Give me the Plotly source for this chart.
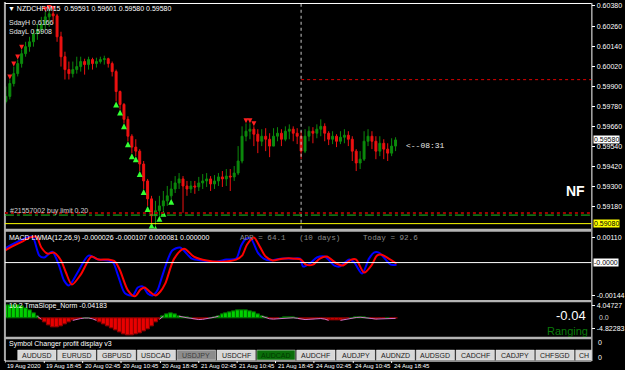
import plotly.graph_objects as go

W, H = 625, 370
SANS = "Liberation Sans Narrow, Liberation Sans, Arial, sans-serif"
MONO = "Liberation Mono, Courier New, monospace"

# ---------------- data ----------------
symbol = "NZDCHF,M15"
header_quote = "0.59591 0.59601 0.59580 0.59580"

first_open_pts = 59810
close_pts = [59840, 59917, 59976, 60036, 60095, 60137, 60166, 60214, 60238, 60273,
             60315, 60333, 60321, 60196, 60077, 60000, 59976, 60000, 60018, 60048,
             60030, 60060, 60036, 60048, 60060, 60065, 60036, 59988, 59869, 59792,
             59703, 59602, 59537, 59513, 59436, 59335, 59228, 59127, 59157, 59186,
             59216, 59246, 59287, 59323, 59347, 59305, 59287, 59305, 59299, 59323,
             59335, 59347, 59317, 59335, 59359, 59347, 59364, 59359, 59382, 59454,
             59602, 59632, 59644, 59614, 59572, 59602, 59584, 59543, 59602, 59620,
             59584, 59632, 59644, 59620, 59602, 59513, 59602, 59632, 59620, 59644,
             59661, 59620, 59584, 59602, 59572, 59596, 59608, 59584, 59513, 59442,
             59465, 59572, 59602, 59572, 59513, 59560, 59525, 59501, 59543, 59580]
high_pts = [59899, 59941, 60018, 60060, 60119, 60166, 60196, 60238, 60273, 60315,
            60345, 60356, 60350, 60333, 60226, 60107, 60048, 60048, 60077, 60077,
            60065, 60077, 60071, 60071, 60077, 60083, 60071, 60048, 60000, 59875,
            59800, 59721, 59614, 59584, 59525, 59454, 59347, 59246, 59216, 59246,
            59275, 59305, 59335, 59364, 59382, 59364, 59335, 59335, 59335, 59359,
            59376, 59382, 59364, 59370, 59382, 59394, 59406, 59406, 59424, 59543,
            59661, 59679, 59679, 59661, 59644, 59644, 59650, 59620, 59650, 59656,
            59644, 59661, 59673, 59661, 59650, 59632, 59644, 59661, 59656, 59673,
            59703, 59679, 59632, 59632, 59614, 59632, 59644, 59632, 59602, 59525,
            59513, 59632, 59644, 59632, 59602, 59602, 59584, 59560, 59590, 59596]
low_pts = [59798, 59822, 59899, 59959, 60012, 60077, 60107, 60137, 60178, 60214,
           60238, 60255, 60273, 60166, 60018, 59941, 59941, 59953, 59976, 59988,
           59970, 60000, 60000, 60012, 60036, 60030, 60012, 59959, 59810, 59762,
           59679, 59572, 59501, 59483, 59394, 59287, 59186, 59085, 59068, 59127,
           59157, 59186, 59228, 59263, 59287, 59145, 59246, 59263, 59258, 59275,
           59287, 59299, 59275, 59287, 59305, 59299, 59305, 59275, 59335, 59370,
           59440, 59572, 59584, 59543, 59501, 59543, 59513, 59477, 59543, 59572,
           59543, 59572, 59584, 59572, 59555, 59465, 59501, 59572, 59560, 59590,
           59602, 59572, 59549, 59555, 59537, 59555, 59560, 59543, 59454, 59394,
           59406, 59454, 59543, 59525, 59465, 59483, 59465, 59454, 59483, 59513]

price_ticks = [0.60380, 0.60260, 0.60140, 0.60020, 0.59900, 0.59780,
               0.59660, 0.59540, 0.59420, 0.59300, 0.59180]
current_price = 0.59580
sday_low = 0.59080
order_price = 0.59131
red_low_level = 0.59144
red_high_level = 0.59940
separator_bar = 75

buy_arrow_bars = [28, 29, 30, 31, 32, 33, 34, 35, 36, 37, 38, 39, 40, 42]
sell_mark_bars = [1, 2, 3, 4, 10, 11, 12, 61, 62, 63]

macd_bars = [-0.25, 1, 3.5, 5.25, 6.75, 8.5, 9.75, 11.75, 13.5, 14.75, 16, 18.5, 21, 23.5,
             26, 27.25, 28.5, 30.25, 32.25, 33.5, 34.75, 36, 37.25, 38.5, 39.75, 42.25,
             44.25, 47.25, 49.75, 53.5, 56, 58.5, 59.75, 61, 62.25, 64, 65.5, 67.25, 69.75,
             72.75, 74.75, 75.5, 77.25, 79, 81, 83.5, 84.75, 87.25, 88.5, 90.5, 92.25,
             93.5, 94.75, 96.5, 97.75, 99.25]
macd_e5 = [60, 73, 95, 108, 112, 30, 22, 47, -13, -77, -99, -34, 30, 13, 9, 0, -56, -133,
           -142, -108, -103, -133, -142, -120, -56, 52, 65, 17, 9, 4, 13, 17, 73, 103, 103,
           43, 17, 9, 17, 17, 17, -17, -4, 22, 26, -13, -17, 13, 0, -47, 17, 43, 43, 13, -9, -9]
signal_bars = [-0.25, 1.5, 4, 6, 7.75, 9, 10.5, 12.25, 14, 15.25, 16.75, 19, 21.75, 23.5, 26,
               27.75, 29, 31, 32.75, 34.25, 35.25, 36.75, 38, 39.25, 40.5, 42.75, 45.25,
               47.75, 51, 54.75, 58.5, 60, 61.25, 63, 64.5, 66, 67.75, 70.25, 73.5, 75,
               76.25, 78, 79.75, 81.5, 84, 85.5, 87.75, 89, 91, 93, 94.25, 95.5, 97.25, 99.25]
signal_e5 = [52, 69, 90, 108, 112, 65, 39, 43, 9, -43, -95, -52, 26, 13, 13, 4, -34, -120,
             -146, -116, -108, -129, -142, -125, -90, 17, 60, 26, 9, 4, 13, 30, 77, 108, 69,
             26, 9, 17, 17, 13, -9, -9, 17, 26, -4, -13, 13, 13, -43, -9, 30, 34, 17, -4]
macd_ticks = [0.00110, -0.00144]
macd_ticktext = ["0.00110", "-0.00144"]

slope_vals = [5.0, 5.0, 5.0, 5.0, 4.6, 3.9, 3.1, 1.9, 0.8, -0.4,
              -1.5, -2.7, -3.5, -3.5, -3.1, -2.3, -1.5, -0.8, -0.3, -0.1,
              0.1, 0.1, -0.2, -0.8, -1.5, -2.3, -3.1, -3.9, -4.6, -5.4,
              -6.2, -6.6, -6.6, -6.2, -5.8, -5.0, -4.2, -3.1, -1.5, -0.4,
              0.8, 1.5, 1.9, 1.5, 0.8, 0.4, 0.2, 0.0, -0.3, -0.5,
              -0.4, -0.2, 0.1, 0.4, 0.8, 1.5, 1.9, 2.3, 2.7, 3.1,
              3.1, 3.1, 2.7, 2.3, 1.5, 0.8, 0.2, -0.2, -0.3, -0.2,
              0.0, 0.2, 0.3, 0.2, 0.0, -0.3, -0.5, -0.4, -0.3, -0.2,
              -0.1, -0.3, -0.8, -1.0, -1.0, -0.8, -0.5, -0.2, 0.1, 0.3,
              0.4, 0.3, 0.1, -0.1, -0.3, -0.2, -0.1, 0.0, -0.1, -0.04]
slope_tickvals = [5.01, -3.86]
slope_ticktext = ["4.04727", "-4.82283"]

time_labels = ["19 Aug 2020", "19 Aug 18:45", "20 Aug 02:45", "20 Aug 10:45",
               "20 Aug 18:45", "21 Aug 02:45", "21 Aug 10:45", "21 Aug 18:45",
               "24 Aug 02:45", "24 Aug 10:45", "24 Aug 18:45"]
time_label_bars = [-0.25, 9.75, 19.5, 29.25, 39.25, 49, 58.75, 68.5, 78.25, 88.25, 98]

symbols = ["AUDUSD", "EURUSD", "GBPUSD", "USDCAD", "USDJPY", "USDCHF", "AUDCAD",
           "AUDCHF", "AUDJPY", "AUDNZD", "AUDSGD", "CADCHF", "CADJPY", "CHFSGD", "CH"]
symbol_state = {"USDJPY": "active", "AUDCAD": "profit"}

# ---------------- derived ----------------
bars = list(range(len(close_pts)))
closes = [c / 1e5 for c in close_pts]
opens = [first_open_pts / 1e5] + closes[:-1]
highs = [max(h / 1e5, o, c) for h, o, c in zip(high_pts, opens, closes)]
lows = [min(l / 1e5, o, c) for l, o, c in zip(low_pts, opens, closes)]
macd = [v / 1e5 for v in macd_e5]
signal = [v / 1e5 for v in signal_e5]


def py(y):
    return 1 - y / H


def px(x):
    return x / W


X_LEFT, X_RIGHT = 5, 601
BAR0_PX, BAR_PX = 6, 4
x_range = [(X_LEFT - BAR0_PX) / BAR_PX, (X_RIGHT - BAR0_PX) / BAR_PX]

fig = go.Figure()

# main candles
fig.add_trace(go.Candlestick(
    x=bars, open=opens, high=highs, low=lows, close=closes,
    increasing=dict(line=dict(color="#0c8a0c", width=1), fillcolor="#0c8a0c"),
    decreasing=dict(line=dict(color="#ee1111", width=1), fillcolor="#ee1111"),
    whiskerwidth=0, hoverinfo="skip", xaxis="x", yaxis="y", showlegend=False))

fig.add_trace(go.Scatter(
    x=buy_arrow_bars, y=[lows[i] for i in buy_arrow_bars], mode="markers",
    marker=dict(symbol="arrow-up", size=6, color="#33ff33"),
    hoverinfo="skip", xaxis="x", yaxis="y", showlegend=False))
fig.add_trace(go.Scatter(
    x=sell_mark_bars, y=[highs[i] for i in sell_mark_bars], mode="markers",
    marker=dict(symbol="arrow-down", size=5, color="#ff2020"),
    hoverinfo="skip", xaxis="x", yaxis="y", showlegend=False))

# MACD
fig.add_trace(go.Scatter(x=macd_bars, y=macd, mode="lines",
                         line=dict(color="#0000ff", width=2, shape="spline", smoothing=0.8),
                         hoverinfo="skip", xaxis="x", yaxis="y2", showlegend=False))
fig.add_trace(go.Scatter(x=signal_bars, y=signal, mode="lines",
                         line=dict(color="#ff0000", width=2, shape="spline", smoothing=0.8),
                         hoverinfo="skip", xaxis="x", yaxis="y2", showlegend=False))

# slope histogram
fig.add_trace(go.Bar(
    x=bars, y=slope_vals, width=1.0,
    marker=dict(color=["#00d000" if v >= 0 else "#e80000" for v in slope_vals],
                line=dict(color=["#006a00" if v >= 0 else "#900000" for v in slope_vals], width=1)),
    hoverinfo="skip", xaxis="x", yaxis="y3", showlegend=False))
fig.add_trace(go.Scatter(
    x=bars, y=[v if abs(v) < 0.9 else None for v in slope_vals], mode="lines",
    line=dict(color="#d070c8", width=1), connectgaps=False,
    hoverinfo="skip", xaxis="x", yaxis="y3", showlegend=False))
# clipped "Current" text at top of slope panel
fig.add_trace(go.Scatter(
    x=[(600 - BAR0_PX) / BAR_PX], y=[7.4], mode="text", text=["Current = -0.04"],
    textposition="middle left", textfont=dict(size=11, color="#0a7a0a", family=SANS),
    cliponaxis=True, hoverinfo="skip", xaxis="x", yaxis="y3", showlegend=False))

# ---------------- layout ----------------
p_top = price_ticks[0] + 2 / 20.2 * 0.0012
p_bot = price_ticks[0] - 224 / 20.2 * 0.0012
macd_px = 0.000043
slope_px = 0.3857

axis_common = dict(showgrid=False, zeroline=False, showline=False, side="right",
                   anchor="x", ticks="outside", ticklen=3, tickcolor="#ffffff",
                   tickfont=dict(size=7, color="#ffffff", family=SANS), fixedrange=True)

shapes = []


def hline_px(y, x0=X_LEFT, x1=X_RIGHT, color="#ffffff", width=1, dash="solid"):
    shapes.append(dict(type="line", xref="paper", yref="paper", x0=px(x0), x1=px(x1),
                       y0=py(y), y1=py(y), line=dict(color=color, width=width, dash=dash)))


def vline_px(x, y0, y1, color="#ffffff", width=1, dash="solid"):
    shapes.append(dict(type="line", xref="paper", yref="paper", x0=px(x), x1=px(x),
                       y0=py(y0), y1=py(y1), line=dict(color=color, width=width, dash=dash)))


def rect_px(x0, y0, x1, y1, fill, line_color=None, lw=0):
    shapes.append(dict(type="rect", xref="paper", yref="paper", x0=px(x0), x1=px(x1),
                       y0=py(y1), y1=py(y0), fillcolor=fill,
                       line=dict(color=line_color or fill, width=lw)))


# frame
vline_px(5, 0, 361, color="#a8a8a8", width=2)
hline_px(1.5)
vline_px(601.5, 1, 361)
rect_px(X_LEFT, 228, X_RIGHT, 231, "#b4b4b4")
rect_px(X_LEFT, 299.5, X_RIGHT, 302, "#b4b4b4")
rect_px(X_LEFT, 336.5, X_RIGHT, 339, "#b4b4b4")
hline_px(361)

# price-level lines
shapes.append(dict(type="line", xref="x", yref="paper", x0=separator_bar, x1=separator_bar,
                   y0=py(228), y1=py(2), line=dict(color="#c8c8c8", width=1, dash="dot")))
shapes.append(dict(type="line", xref="x", yref="y", x0=separator_bar, x1=x_range[1],
                   y0=red_high_level, y1=red_high_level,
                   line=dict(color="#e00000", width=1, dash="dot")))
shapes.append(dict(type="line", xref="paper", yref="y", x0=px(X_LEFT), x1=px(X_RIGHT),
                   y0=red_low_level, y1=red_low_level,
                   line=dict(color="#a00000", width=2, dash="dot")))
shapes.append(dict(type="line", xref="paper", yref="y", x0=px(X_LEFT), x1=px(X_RIGHT),
                   y0=order_price, y1=order_price,
                   line=dict(color="#20c020", width=1, dash="dashdot")))
shapes.append(dict(type="line", xref="paper", yref="y", x0=px(X_LEFT), x1=px(X_RIGHT),
                   y0=sday_low, y1=sday_low, line=dict(color="#ffff00", width=1)))
shapes.append(dict(type="line", xref="paper", yref="y2", x0=px(X_LEFT), x1=px(X_RIGHT),
                   y0=0, y1=0, line=dict(color="#ffffff", width=1)))

# symbol buttons
for k, s in enumerate(symbols):
    x0 = 18 + k * 40.5
    x1 = min(x0 + 39, X_RIGHT)
    state = symbol_state.get(s)
    fill = {"active": "#8c8c8c", "profit": "#0a6e0a"}.get(state, "#d8d8d8")
    rect_px(x0, 350, x1, 360, fill, "#f0f0f0", 0.5)

# time ticks
for b in time_label_bars:
    shapes.append(dict(type="line", xref="x", yref="paper", x0=b, x1=b,
                       y0=py(363), y1=py(361), line=dict(color="#ffffff", width=1)))

anns = []


def txt(x, y, s, size=7, color="#ffffff", anchor="left", family=SANS, **kw):
    anns.append(dict(x=px(x), y=py(y), xref="paper", yref="paper", text=s, showarrow=False,
                     xanchor=anchor, yanchor="middle",
                     font=dict(size=size, color=color, family=family), **kw))


txt(6, 7, "\u25bc " + symbol + "  " + header_quote, size=7)
txt(7, 21, "SdayH 0.6166", size=7, color="#e0e0e0")
txt(7, 30, "SdayL 0.5908", size=7, color="#e0e0e0")
txt(8, 210, "#21557002 buy limit 0.20", size=7, color="#d0d0d0")
txt(411, 144, "<--08:31", size=8, color="#e8e8e8", family=MONO)
txt(585, 190, "<b>NF</b>", size=14, anchor="center", family="Liberation Sans, Arial")

txt(7, 237, "MACD LWMA(12,26,9) -0.000026 -0.000107 0.000081 0.000000", size=7)
txt(242, 237, "ADR = 64.1   (10 days)     Today = 92.6", size=7.6, color="#8c8c8c",
    family=MONO)

txt(7, 306, "10.2 TmaSlope_Norm -0.04183", size=7)
txt(598, 315, "-0.04", size=13, anchor="right", family="Liberation Sans, Arial")
txt(600, 331, "Ranging", size=11, color="#0a7a0a", anchor="right",
    family="Liberation Sans, Arial")

txt(7, 344, "Symbol Changer profit display v3", size=7)
for k, s in enumerate(symbols):
    x0 = 18 + k * 40.5
    x1 = min(x0 + 39, X_RIGHT)
    state = symbol_state.get(s)
    col = {"active": "#3c3c3c", "profit": "#023a02"}.get(state, "#202020")
    txt((x0 + x1) / 2, 355.5, s, size=7, color=col, anchor="center")

# right-axis extras
anns.append(dict(x=px(603), y=current_price, xref="paper", yref="y", text="0.59580",
                 showarrow=False, xanchor="left", yanchor="middle", bgcolor="#ffffff",
                 font=dict(size=7, color="#000000", family=SANS), borderpad=0))
anns.append(dict(x=px(603), y=sday_low, xref="paper", yref="y", text="0.59080",
                 showarrow=False, xanchor="left", yanchor="middle", bgcolor="#ffff00",
                 font=dict(size=7, color="#000000", family=SANS), borderpad=0))
anns.append(dict(x=px(603), y=0, xref="paper", yref="y2", text="-0.0000",
                 showarrow=False, xanchor="left", yanchor="middle", bgcolor="#ffffff",
                 font=dict(size=7, color="#000000", family=SANS), borderpad=0))
txt(607, 317, "0.0", size=7, color="#d0d0d0")
txt(606, 342, "0", size=7)
txt(606, 357, "0", size=7)

for lab, b in zip(time_labels, time_label_bars):
    anns.append(dict(x=b, y=py(366), xref="x", yref="paper", text=lab, showarrow=False,
                     xanchor="left", yanchor="middle",
                     font=dict(size=6, color="#ffffff", family=SANS)))

fig.update_layout(
    width=W, height=H, margin=dict(l=0, r=0, t=0, b=0),
    paper_bgcolor="#000000", plot_bgcolor="#000000",
    showlegend=False, hovermode=False, bargap=0,
    xaxis=dict(domain=[px(X_LEFT), px(X_RIGHT)], range=x_range, visible=False,
               rangeslider=dict(visible=False), fixedrange=True),
    yaxis=dict(domain=[py(228), py(2)], range=[p_bot, p_top], tickvals=price_ticks,
               ticktext=[f"{t:.5f}" for t in price_ticks], **axis_common),
    yaxis2=dict(domain=[py(300), py(231)],
                range=[-(300 - 262) * macd_px, (262 - 231) * macd_px],
                tickvals=macd_ticks, ticktext=macd_ticktext, **axis_common),
    yaxis3=dict(domain=[py(337), py(302)],
                range=[-(337 - 318) * slope_px, (318 - 302) * slope_px],
                tickvals=slope_tickvals, ticktext=slope_ticktext, **axis_common),
    shapes=shapes, annotations=anns,
)

fig.write_html("out.html", config={"displayModeBar": False})
